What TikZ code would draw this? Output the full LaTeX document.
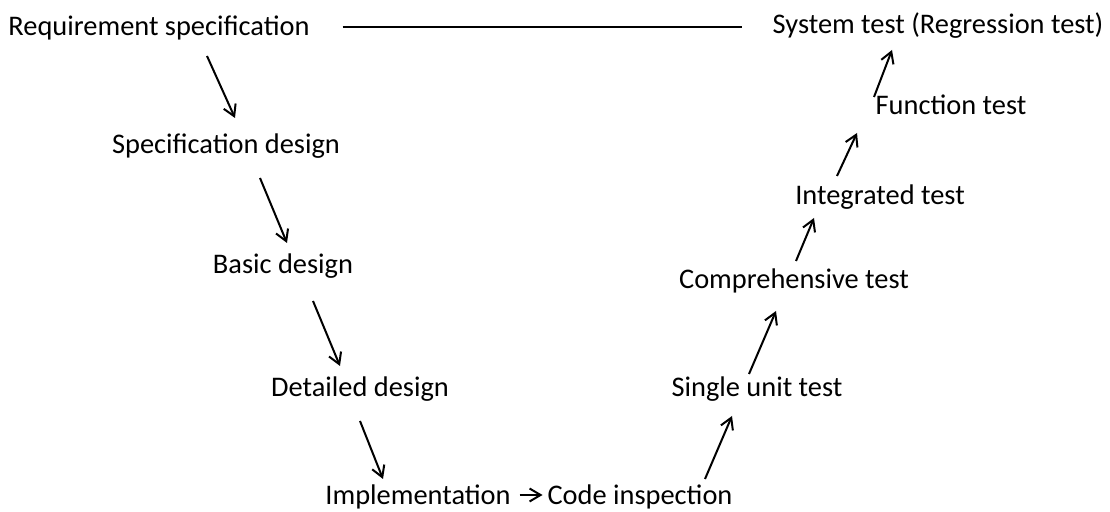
\documentclass[tikz,border=0pt]{standalone}
\usepackage{fontspec}
\setmainfont{Carlito}
\usetikzlibrary{arrows.meta}

\begin{document}
\begin{tikzpicture}[x=0.5pt, y=-0.5pt, line width=1pt,
	>={Straight Barb[length=5.5pt,width=6.5pt]},
	every node/.style={font=\fontsize{14.2}{16}\selectfont, inner sep=0pt, text height=10.5pt, text depth=3.5pt}]
				\useasboundingbox (0,0) rectangle (1110,512);
				% left branch
				\node (req) at (159,29) {Requirement specification};
				\node (spec) at (226,147) {Specification design};
				\node (basic) at (283,267) {Basic design};
				\node (detail) at (360,390) {Detailed design};
				\node (impl) at (418,498) {Implementation};
				\node (code) at (640,498) {Code inspection};
				% right branch
				\node (unit) at (757,390) {Single unit test};
				\node (comp) at (794,282) {Comprehensive test};
				\node (integ) at (880,198) {Integrated test};
				\node (func) at (951,108) {Function test};
				\node (sys) at (938,27) {System test (Regression test)};
				\draw ([shift={(32,-2)}]req.east) -- ([shift={(-30,0)}]sys.west);
				\draw[->] ([shift={(48,12)}]req.south) -- ([shift={(9,-14)}]spec.north);
				\draw[->] ([shift={(34,16)}]spec.south) -- ([shift={(4,-9)}]basic.north);
				\draw[->] ([shift={(30,19)}]basic.south) -- ([shift={(-20,-9)}]detail.north);
				\draw[->] ([shift={(0,16)}]detail.south) -- ([shift={(-35,-4)}]impl.north);
				\draw[->] ([shift={(8,-3)}]impl.east) -- ([shift={(-4,-3)}]code.west);
				\draw[->] ([shift={(65,-4)}]code.north) -- ([shift={(-25,11)}]unit.south);
				\draw[->] ([shift={(-8,-1)}]unit.north) -- ([shift={(-18,14)}]comp.south);
				\draw[->] ([shift={(2,-6)}]comp.north) -- ([shift={(-66,5)}]integ.south);
				\draw[->] ([shift={(-43,-7)}]integ.north) -- ([shift={(-94,10)}]func.south);
				\draw[->] ([shift={(-77,4)}]func.north) -- ([shift={(-46,8)}]sys.south);
			\end{tikzpicture}
\end{document}
